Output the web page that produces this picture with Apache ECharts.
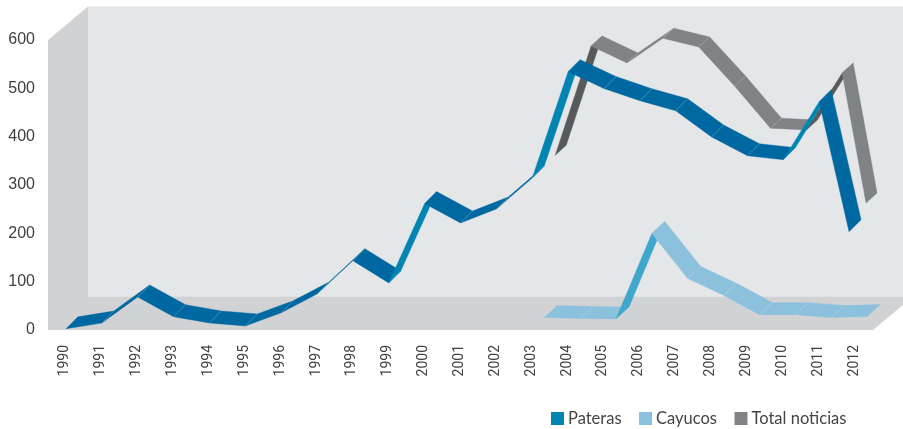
<!DOCTYPE html>
<html>
<head>
<meta charset="utf-8">
<title>Noticias</title>
<script src="https://cdn.jsdelivr.net/npm/echarts@6/dist/echarts.min.js"></script>
<style>
  html, body { margin: 0; padding: 0; background: #fff; }
  #chart { width: 903px; height: 429px; }
</style>
</head>
<body>
<div id="chart"></div>
<script>
var years = [1990, 1991, 1992, 1993, 1994, 1995, 1996, 1997, 1998, 1999, 2000, 2001, 2002, 2003, 2004, 2005, 2006, 2007, 2008, 2009, 2010, 2011, 2012];
var pateras = [0, 12, 66, 25, 12, 6, 33, 72, 141, 95, 259, 219, 248, 312, 532, 497, 472, 451, 397, 358, 350, 470, 201];
var cayucosYears = [2003, 2004, 2005, 2006, 2007, 2008, 2009, 2010, 2011, 2012];
var cayucos = [3, 1, 0, 177, 84, 49, 9, 9, 3, 5];
var totalYears = [2003, 2004, 2005, 2006, 2007, 2008, 2009, 2010, 2011, 2012];
var totalNoticias = [312, 538, 503, 554, 536, 455, 368, 364, 482, 213];
var yTicks = { min: 0, max: 600, interval: 100 };

// each series sits at its own depth in the 3d box, the ribbon goes back from there
var boxDepth = [40, -33.5];
var ribbons = [
  { name: 'Total noticias', years: totalYears, values: totalNoticias, offset: [24, -24], depth: [11, -10], endSqueeze: 12, top: '#808285', under: '#58595b' },
  { name: 'Cayucos', years: cayucosYears, values: cayucos, offset: [13, -11], depth: [13, -12], endSqueeze: 0, top: '#8bc1dc', under: '#3fa6cc' },
  { name: 'Pateras', years: years, values: pateras, offset: [1, -1.2], depth: [12, -12], endSqueeze: 6, top: '#0068a0', under: '#0085b3' }
];

function renderBox(params, api) {
  var a = api.coord([1989.5, 0]);
  var b = api.coord([2012.5, 0]);
  var top = api.coord([1989.5, 600]);
  var x0 = a[0] + 1, x1 = b[0] + 1, y0 = a[1], y1 = top[1];
  var dx = boxDepth[0], dy = boxDepth[1];
  function poly(points, color) {
    return { type: 'polygon', shape: { points: points }, style: { fill: color }, silent: true };
  }
  return {
    type: 'group',
    children: [
      poly([[x0 + dx, y1 + dy], [x1 + dx, y1 + dy], [x1 + dx, y0 + dy], [x0 + dx, y0 + dy]], '#e5e6e8'),
      // left wall and floor as one shape so no seam shows in the corner
      poly([[x0, y1], [x0 + dx, y1 + dy], [x0 + dx, y0 + dy], [x1 + dx, y0 + dy], [x1, y0], [x0, y0]], '#d1d2d4')
    ]
  };
}

function makeRenderer(r) {
  return function (params, api) {
    var p = api.coord([api.value(0), api.value(1)]);
    var q = api.coord([api.value(2), api.value(3)]);
    var ax = p[0] + r.offset[0], ay = p[1] + r.offset[1];
    var bx = q[0] + r.offset[0], by = q[1] + r.offset[1];
    if (api.value(2) === 2012) bx -= r.endSqueeze;
    var dx = r.depth[0], dy = r.depth[1];
    // rising steeper than the depth line means we look at the underside
    var under = (by - ay) / (bx - ax) < dy / dx;
    var color = under ? r.under : r.top;
    var children = [{
      type: 'polygon',
      shape: { points: [[ax, ay], [bx, by], [bx + dx, by + dy], [ax + dx, ay + dy]] },
      style: { fill: color, stroke: color, lineWidth: 0.4 }
    }];
    if (params.dataIndex > 0) {
      children.push({
        type: 'line',
        shape: { x1: ax, y1: ay, x2: ax + dx, y2: ay + dy },
        style: { stroke: 'rgba(255,255,255,0.28)', lineWidth: 0.6 }
      });
    }
    return { type: 'group', children: children };
  };
}

var series = [{
  type: 'custom',
  name: 'box',
  xAxisIndex: 1,
  yAxisIndex: 0,
  silent: true,
  renderItem: renderBox,
  data: [[1990, 0]],
  encode: { x: 0, y: 1 }
}];

ribbons.forEach(function (r) {
  var segs = [];
  for (var i = 0; i < r.values.length - 1; i++) {
    segs.push([r.years[i], r.values[i], r.years[i + 1], r.values[i + 1]]);
  }
  series.push({
    type: 'custom',
    name: r.name,
    xAxisIndex: 1,
    yAxisIndex: 0,
    silent: true,
    itemStyle: { color: r.name === 'Pateras' ? r.under : r.top },
    renderItem: makeRenderer(r),
    data: segs,
    encode: { x: 0, y: 1 }
  });
});

var myChart = echarts.init(document.getElementById('chart'));
myChart.setOption({
  animation: false,
  textStyle: { fontFamily: 'Liberation Sans' },
  grid: { left: 47, top: 40, width: 825, height: 290, containLabel: false },
  legend: {
    left: 546,
    top: 405,
    icon: 'rect',
    itemWidth: 13,
    itemHeight: 13,
    itemGap: 17.5,
    selectedMode: false,
    data: ['Pateras', 'Cayucos', 'Total noticias'],
    textStyle: { fontFamily: 'Lato', fontSize: 16.5, color: '#444', padding: [0, 0, 0, -1] }
  },
  xAxis: [{
    type: 'category',
    data: years,
    axisLine: { show: false },
    axisTick: { show: false },
    splitLine: { show: false },
    axisLabel: { interval: 0, rotate: 90, margin: 15, fontFamily: 'Roboto', fontSize: 14, color: '#404040' }
  }, {
    type: 'value',
    show: false,
    min: 1989.5,
    max: 2012.5
  }],
  yAxis: [{
    type: 'value',
    min: yTicks.min,
    max: yTicks.max,
    interval: yTicks.interval,
    axisLine: { show: false },
    axisTick: { show: false },
    splitLine: { show: false },
    axisLabel: { margin: 12, fontFamily: 'Liberation Sans', fontSize: 16, color: '#404040', padding: [2, 0, 0, 0] }
  }],
  series: series
});
</script>
</body>
</html>
